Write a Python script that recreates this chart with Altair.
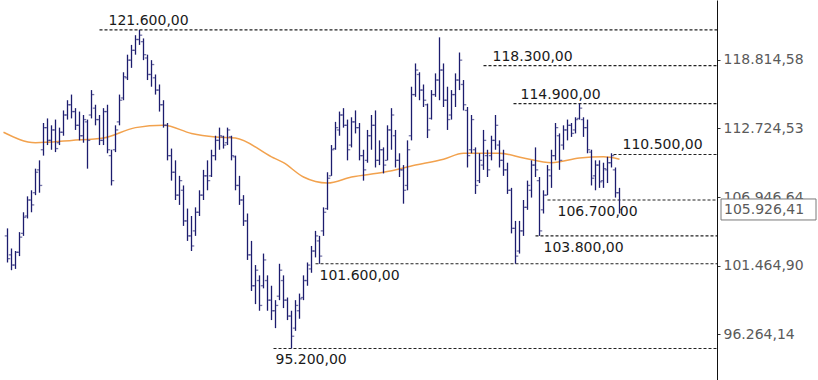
import altair as alt
import pandas as pd

# ---- OHLC bars (values in thousands) ----
high = [104.4,102.8,102.6,104.1,105.7,107.0,107.5,109.3,110.0,113.2,113.6,113.0,113.5,112.8,114.3,115.2,115.7,114.5,114.2,113.9,
        113.5,116.1,114.8,113.9,114.5,114.8,110.9,113.0,115.7,117.7,119.3,120.2,121.1,121.6,120.8,119.3,118.8,117.5,116.6,115.2,
        113.2,111.0,110.0,108.7,107.9,106.0,105.4,106.1,107.5,109.2,110.0,110.9,112.1,112.8,112.1,112.8,112.1,110.4,108.7,107.1,
        105.6,103.4,101.5,100.7,102.4,100.7,99.9,98.8,101.6,100.7,99.0,98.0,98.8,99.3,100.7,101.7,103.0,104.2,103.8,106.1,
        109.0,111.3,113.3,114.2,114.5,113.5,113.7,114.3,113.2,110.9,112.6,113.9,114.3,111.7,111.1,113.0,114.5,112.6,110.6,109.6,
        111.7,116.4,118.5,117.7,116.6,114.9,116.1,117.6,120.9,118.5,116.4,116.1,117.6,119.5,117.0,114.6,113.9,111.1,110.6,112.6,
        110.9,112.1,113.9,111.7,110.9,109.8,107.7,105.0,105.0,106.7,108.3,110.0,111.1,108.6,107.5,109.6,110.9,113.2,112.3,113.0,
        113.5,113.2,113.7,114.9,113.7,113.5,110.9,110.0,110.0,109.8,110.3,110.6,109.4,107.7]
low = [101.7,101.1,101.2,102.2,103.8,105.2,105.7,107.1,107.3,110.4,111.3,110.9,110.7,111.3,112.1,113.5,113.6,112.6,111.7,111.5,
       109.3,113.6,113.0,111.3,111.3,110.6,107.9,110.7,113.0,115.2,117.0,118.1,119.3,120.2,118.8,117.0,116.4,115.7,114.2,112.8,
       110.0,108.3,106.7,106.3,104.6,103.4,102.6,103.8,105.4,106.7,107.5,108.6,110.0,110.9,111.0,111.3,110.0,107.5,106.3,104.6,
       101.9,99.5,98.5,98.0,99.7,98.0,97.3,96.7,98.8,98.2,97.3,95.2,96.5,97.4,98.8,99.9,100.9,102.1,101.6,103.8,
       105.9,108.7,110.9,112.1,112.8,110.0,111.1,112.3,110.0,108.3,109.8,110.9,109.4,109.6,108.9,110.0,110.9,109.4,108.6,106.4,
       107.5,111.7,115.5,115.2,114.6,111.9,113.5,115.5,115.2,114.6,112.6,113.5,114.6,116.1,114.3,109.4,110.6,107.2,108.1,109.2,
       108.6,110.0,110.9,109.4,108.7,107.2,104.0,101.6,102.4,103.8,105.9,106.9,108.6,103.8,105.6,107.1,107.7,110.0,109.2,110.9,
       111.7,112.0,112.3,113.5,112.0,110.6,107.9,107.5,107.7,107.7,108.1,109.4,106.9,105.6]
open_ = [103.8,102.3,101.5,102.5,104.0,105.4,106.7,107.3,109.2,110.9,112.8,111.7,112.6,111.5,112.4,113.9,114.8,114.2,113.0,112.1,
         113.3,113.9,114.5,113.5,111.7,114.2,110.4,110.9,113.3,115.4,117.2,118.8,119.7,120.7,120.5,119.0,117.5,117.2,116.1,114.8,
         113.0,110.4,109.0,107.1,107.5,105.0,103.8,104.2,105.7,107.1,108.7,108.7,110.4,111.7,112.0,111.5,112.0,110.3,107.9,106.7,
         105.0,102.3,99.9,100.3,99.9,100.3,98.8,98.0,99.1,100.3,98.8,97.6,96.7,98.0,99.0,100.3,101.2,102.6,103.4,104.2,
         106.0,108.7,111.0,112.6,113.9,113.0,111.3,113.3,112.8,110.4,110.0,112.1,113.0,110.0,110.9,110.0,112.6,112.1,110.0,109.2,
         107.9,112.1,115.7,117.5,116.1,114.8,113.6,115.7,117.0,117.9,115.2,113.9,115.7,117.0,116.6,114.3,110.9,110.9,108.3,109.6,
         110.4,110.4,111.7,111.3,110.0,109.2,107.5,104.4,102.6,104.2,106.1,107.5,109.6,108.3,105.9,107.1,108.7,110.4,112.1,111.3,
         112.6,113.0,112.6,113.6,113.5,112.8,110.7,108.7,109.6,108.3,109.2,109.8,109.2,107.3]
close = [102.0,101.5,102.5,103.7,105.3,106.7,106.3,109.0,107.9,112.8,111.7,112.6,111.0,112.4,113.9,114.8,114.2,113.0,112.1,113.5,
         111.7,115.7,113.5,111.7,114.2,110.9,108.3,112.6,115.2,117.3,118.8,119.7,120.7,121.1,119.3,117.5,118.4,116.1,114.8,113.0,
         110.4,109.0,107.1,108.3,105.0,103.8,103.0,105.7,107.1,108.7,108.3,110.4,111.7,112.1,111.3,112.6,110.4,107.9,106.7,105.0,
         102.3,99.9,101.1,98.4,101.9,98.8,98.0,98.4,101.1,98.8,97.6,96.1,98.4,98.9,100.3,101.5,102.6,103.8,102.2,105.7,
         108.5,110.9,112.8,113.9,113.0,110.9,113.3,112.8,110.4,109.2,112.1,113.0,110.0,110.9,109.6,112.6,113.9,110.0,109.2,107.5,
         110.9,115.7,117.9,116.1,115.2,112.6,115.7,117.0,117.9,115.2,113.5,115.7,117.0,118.8,114.8,110.4,113.5,107.9,110.0,111.7,
         109.2,111.7,113.0,110.0,109.2,107.5,104.4,102.2,104.2,106.1,107.9,109.6,109.2,104.2,107.1,109.2,110.4,112.8,110.0,112.6,
         113.0,112.3,113.5,114.5,112.8,110.9,108.5,109.6,108.2,109.3,109.8,110.4,107.3,105.92641]

# ---- moving average (bar index, value in thousands) ----
ma_idx = [-1, 7, 16, 24, 32, 39, 46, 52, 57, 66, 69, 74, 80, 86, 94, 102, 109, 114, 123, 129, 136, 143, 149, 153]
ma_val = [112.4, 111.5, 111.7, 111.9, 112.8, 113.0, 112.3, 112.0, 111.9, 110.3, 109.8, 108.6, 108.1, 108.6,
          109.0, 109.6, 110.1, 110.6, 110.6, 110.2, 109.8, 110.2, 110.3, 110.1]

# ---- horizontal levels ----
level_values = [121600, 118300, 114900, 110500, 106700, 103800, 101600, 95200]
level_start = [23, 119, 126.5, 151.5, 135, 132, 77, 66.5]
level_side = ["above", "above", "above", "above", "below", "below", "below", "below"]

axis_ticks = [96264.14, 101464.90, 106946.64, 112724.53, 118814.58]
last_value = 105926.41

# layout parameters (pixels)
label_dx = [9, 9, 7, 9, 10, 8, 4, 2]
PX_PER_BAR = 4


def de(v):
    return f"{v:,.2f}".replace(",", "X").replace(".", ",").replace("X", ".")


bars = pd.DataFrame({
    "i": list(range(len(high))),
    "high": [v * 1000 for v in high],
    "low": [v * 1000 for v in low],
    "open": [v * 1000 for v in open_],
    "close": [v * 1000 for v in close],
})
ma = pd.DataFrame({"i": ma_idx, "v": [v * 1000 for v in ma_val]})
levels = pd.DataFrame({
    "value": level_values,
    "start": level_start,
    "side": level_side,
    "dx": label_dx,
    "label": [de(v) for v in level_values],
})
last = pd.DataFrame({"v": [last_value], "label": [de(last_value)]})

FONT = "DejaVu Sans"
xscale = alt.Scale(domain=[-1.125, 177.375], nice=False, zero=False)
yscale = alt.Scale(type="log", domain=[92923, 124418], nice=False, zero=False)
yaxis = alt.Axis(
    orient="right", values=axis_ticks, grid=False, title=None,
    labelExpr="replace(replace(replace(format(datum.value, ',.2f'), ',', ' '), '.', ','), ' ', '.')",
    labelFont=FONT, labelFontSize=14, labelColor="#5a5a5a", labelPadding=3,
    tickSize=3, tickColor="#333333", domainColor="#111111", domainWidth=1,
)


def X(f):
    return alt.X(f, scale=xscale, axis=None, title=None)


def Y(f):
    return alt.Y(f, scale=yscale, axis=yaxis, title=None)


level_rules = alt.Chart(levels).mark_rule(
    strokeDash=[3, 2], color="#222222", strokeWidth=1.1
).encode(x=X("start:Q"), x2=alt.value("width"), y=Y("value:Q"))

ma_line = alt.Chart(ma).mark_line(
    color="#f2a24e", strokeWidth=1.5, interpolate="monotone"
).encode(x=X("i:Q"), y=Y("v:Q"))

COL = "#1c1c6e"
hl = alt.Chart(bars).mark_rule(color=COL, strokeWidth=1.3).encode(
    x=X("i:Q"), y=Y("low:Q"), y2="high:Q")
op = alt.Chart(bars).mark_tick(
    color="#3a3a85", orient="horizontal", size=2.5, thickness=1.3, xOffset=-1.5
).encode(x=X("i:Q"), y=Y("open:Q"))
cl = alt.Chart(bars).mark_tick(
    color="#3a3a85", orient="horizontal", size=2.5, thickness=1.3, xOffset=1.5
).encode(x=X("i:Q"), y=Y("close:Q"))

base_lab = alt.Chart(levels).transform_calculate(
    lx=f"datum.start + datum.dx / {PX_PER_BAR}")
lab_above = base_lab.transform_filter("datum.side == 'above'").mark_text(
    font=FONT, fontSize=14, color="#1a1a1a", align="left", baseline="alphabetic", dy=-5
).encode(x=X("lx:Q"), y=Y("value:Q"), text="label:N")
lab_below = base_lab.transform_filter("datum.side == 'below'").mark_text(
    font=FONT, fontSize=14, color="#1a1a1a", align="left", baseline="alphabetic", dy=16
).encode(x=X("lx:Q"), y=Y("value:Q"), text="label:N")

box = alt.Chart(last).mark_rect(
    fill="white", stroke="#7a7a7a", strokeWidth=1, height=21
).encode(x=alt.value(718), x2=alt.value(813), y=Y("v:Q"))
box_text = alt.Chart(last).mark_text(
    font=FONT, fontSize=14, color="#5a5a5a", align="left", baseline="middle", dy=1
).encode(x=alt.value(721), y=Y("v:Q"), text="label:N")

chart = alt.layer(
    level_rules, ma_line, hl, op, cl, lab_above, lab_below, box, box_text
).properties(
    width=714, height=380, padding=0, background="white"
).configure_view(stroke=None)

chart.save("out.html", embed_options={"renderer": "svg", "actions": False})
